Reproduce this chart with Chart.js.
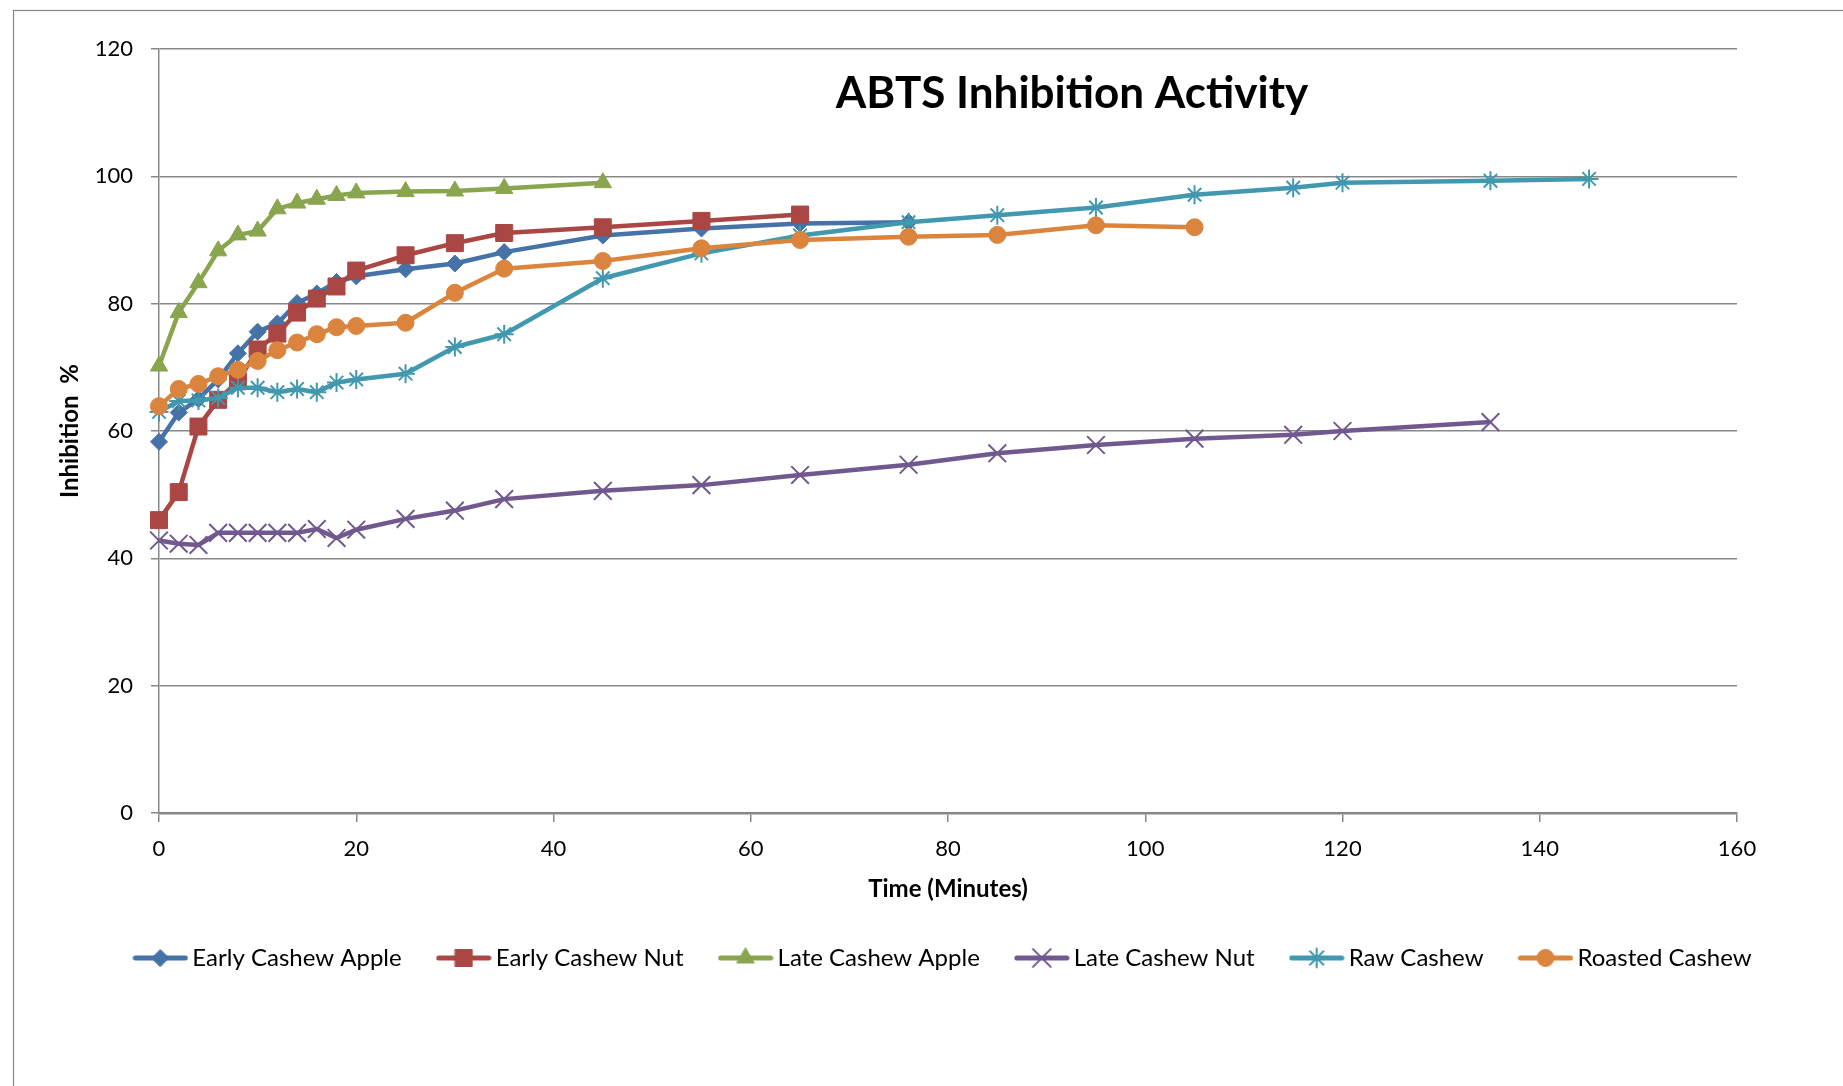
<!DOCTYPE html>
<html>
<head>
<meta charset="utf-8">
<script src="https://cdn.jsdelivr.net/npm/chart.js@4.4.1/dist/chart.umd.min.js"></script>
<style>
  html, body { margin:0; background:#fff; }
  canvas { display:block; }
</style>
</head>
<body>
<canvas id="chart" width="1843" height="1086"></canvas>
<script>
// sampling times (minutes); each series uses the first N of them
const minutes = [0,2,4,6,8,10,12,14,16,18,20,25,30,35,45,55,65,76,85,95,105,115,120,135,145];

const earlyCashewApple = [58.3,62.9,65.0,68.1,72.2,75.6,76.9,80.1,81.6,83.4,84.3,85.4,86.3,88.1,90.7,91.8,92.6,92.8];
const earlyCashewNut   = [46.0,50.4,60.7,64.9,67.8,72.8,75.3,78.6,80.8,82.7,85.2,87.6,89.5,91.1,92.0,93.0,94.0];
const lateCashewApple  = [70.2,78.6,83.3,88.3,90.8,91.4,94.9,95.8,96.4,97.0,97.4,97.6,97.7,98.1,99.0];
const lateCashewNut    = [42.8,42.3,42.1,44.0,44.0,44.0,44.0,44.0,44.6,43.2,44.5,46.2,47.5,49.3,50.6,51.5,53.1,54.7,56.5,57.8,58.8,59.4,60.0,61.4];
const rawCashew        = [63.0,64.7,64.8,65.2,66.8,66.8,66.1,66.6,66.1,67.6,68.1,69.0,73.2,75.2,84.0,87.9,90.7,92.8,93.9,95.1,97.1,98.2,99.0,99.3,99.6];
const roastedCashew    = [63.9,66.6,67.4,68.6,69.6,71.0,72.7,73.9,75.2,76.3,76.5,77.0,81.7,85.5,86.7,88.7,90.0,90.5,90.8,92.3,92.0];

const seriesNames = ["Early Cashew Apple","Early Cashew Nut","Late Cashew Apple","Late Cashew Nut","Raw Cashew","Roasted Cashew"];
const seriesValues = [earlyCashewApple, earlyCashewNut, lateCashewApple, lateCashewNut, rawCashew, roastedCashew];

const xTicks = [0,20,40,60,80,100,120,140,160];
const yTicks = [0,20,40,60,80,100,120];

const colors  = ["#4572A7","#AA4643","#89A54E","#71588F","#4198AF","#DB843D"];
const markers = ["rectRot","rect","triangle","crossRot","star","circle"];
const radii   = [8.5, 12, 10, 12.5, 9.5, 8.5];
const markerLine = [1, 1, 1, 2, 2, 1];

const FONT = 'Lato, "Open Sans", sans-serif';
Chart.defaults.font.family = FONT;
Chart.defaults.color = "#000";

const GRID = "#888888";

// legend swatch: short line with the marker in the middle
function swatch(i){
  const c = document.createElement("canvas");
  c.width = 56; c.height = 24;
  const g = c.getContext("2d");
  g.strokeStyle = colors[i];
  g.lineWidth = 5;
  g.lineCap = "round";
  g.beginPath(); g.moveTo(3, 12); g.lineTo(53, 12); g.stroke();
  g.fillStyle = colors[i];
  g.lineWidth = markerLine[i];
  Chart.helpers.drawPoint(g, {pointStyle: markers[i], radius: radii[i], rotation: 0, borderWidth: markerLine[i]}, 28, 12);
  return c;
}

const datasets = seriesValues.map((vals, i) => ({
  label: seriesNames[i],
  data: vals.map((v, k) => ({x: minutes[k], y: v})),
  borderColor: colors[i],
  backgroundColor: colors[i],
  borderWidth: 4.5,
  borderJoinStyle: "round",
  tension: 0,
  pointStyle: markers[i],
  pointRadius: radii[i],
  pointBorderWidth: markerLine[i],
  pointBackgroundColor: colors[i],
  pointBorderColor: colors[i],
  clip: false,
  order: seriesNames.length - i
}));

const frame = {
  id: "frame",
  beforeDraw(chart){
    const ctx = chart.ctx;
    ctx.save();
    ctx.fillStyle = "#fff";
    ctx.fillRect(0, 0, chart.width, chart.height);
    ctx.strokeStyle = GRID;
    ctx.lineWidth = 1.2;
    ctx.strokeRect(13.5, 10.5, 3000, 3000);
    ctx.restore();
  },
  afterDraw(chart){
    const ctx = chart.ctx;
    ctx.save();
    ctx.font = "bold 44px " + FONT;
    ctx.fillStyle = "#000";
    ctx.textAlign = "center";
    ctx.textBaseline = "middle";
    ctx.fillText("ABTS Inhibition Activity", 1072, 94);
    ctx.restore();
  }
};

new Chart(document.getElementById("chart"), {
  type: "line",
  data: { datasets },
  options: {
    responsive: false,
    animation: false,
    events: [],
    layout: { padding: { left: 49, right: 0, top: 49, bottom: 106 } },
    scales: {
      x: {
        type: "linear",
        min: 0, max: 160,
        afterBuildTicks: s => { s.ticks = xTicks.map(v => ({value: v})); },
        afterFit: s => { s.height = 91; },
        grid: { drawOnChartArea: false, drawTicks: true, tickLength: 9, color: GRID, lineWidth: 1.5 },
        border: { display: true, color: GRID, width: 2.5 },
        ticks: { padding: 14, font: { size: 22 }, color: "#000" },
        title: { display: true, text: "Time (Minutes)", font: { size: 24, weight: "bold" }, padding: { top: 0, bottom: 0 }, color: "#000" }
      },
      y: {
        min: 0, max: 120,
        afterBuildTicks: s => { s.ticks = yTicks.map(v => ({value: v})); },
        afterFit: s => { s.width = 110; },
        grid: { drawTicks: true, tickLength: 8, color: GRID, lineWidth: 1.5 },
        border: { display: true, color: GRID, width: 1.5 },
        ticks: { padding: 18, font: { size: 22 }, color: "#000" },
        title: { display: true, text: "Inhibition  %", font: { size: 24, weight: "bold" }, padding: { top: 7, bottom: 0 }, color: "#000" }
      },
      spacer: {
        type: "linear",
        position: "right",
        display: true,
        afterFit: s => { s.width = 106; },
        grid: { display: false },
        border: { display: false },
        ticks: { display: false },
        title: { display: false }
      }
    },
    plugins: {
      tooltip: { enabled: false },
      legend: {
        position: "bottom",
        labels: {
          usePointStyle: true,
          pointStyleWidth: 40,
          padding: 42,
          font: { size: 24 },
          color: "#000",
          generateLabels: chart => chart.data.datasets.map((d, i) => ({
            text: d.label,
            pointStyle: swatch(i),
            fillStyle: colors[i],
            strokeStyle: colors[i],
            lineWidth: 0,
            hidden: false,
            datasetIndex: i
          }))
        }
      }
    }
  },
  plugins: [frame]
});
</script>
</body>
</html>
